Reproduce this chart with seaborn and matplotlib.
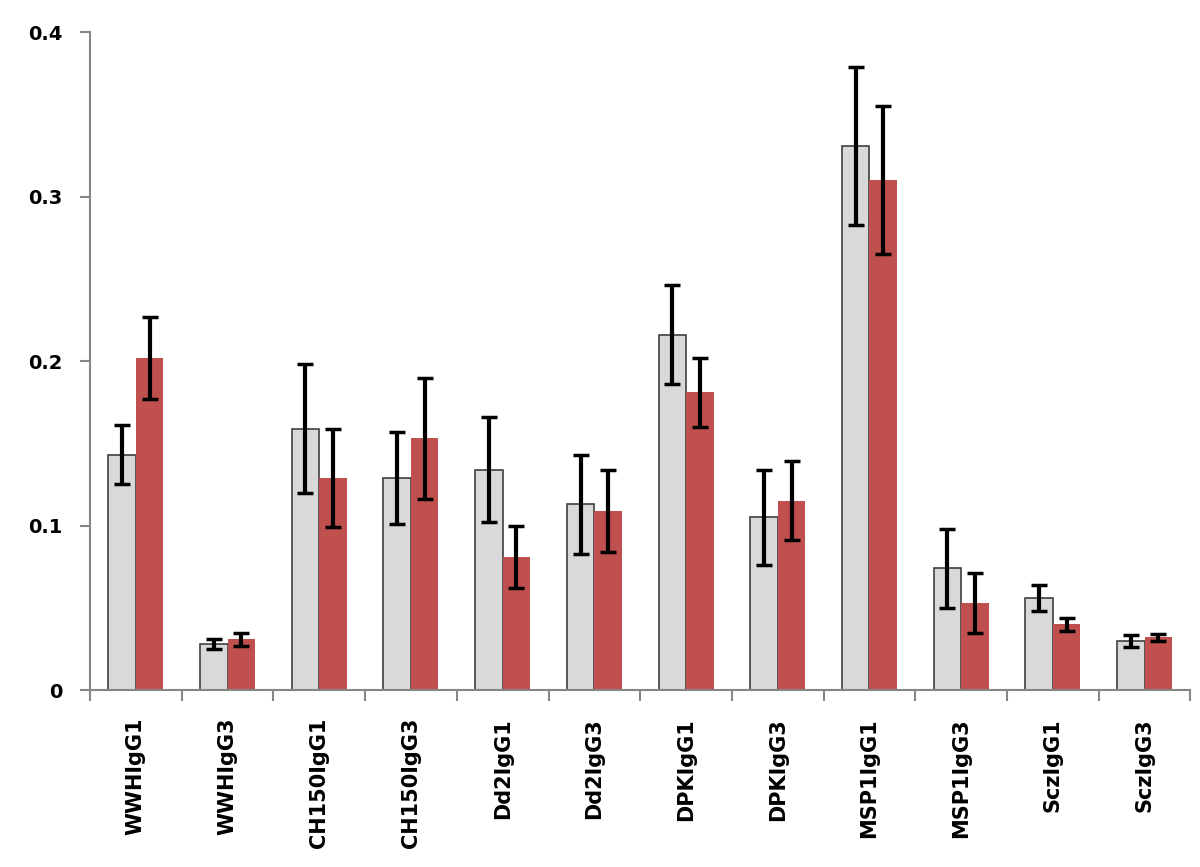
import numpy as np
import pandas as pd
import matplotlib
matplotlib.use("Agg")
import matplotlib.pyplot as plt
import seaborn as sns

categories = ["WWHIgG1", "WWHIgG3", "CH150IgG1", "CH150IgG3", "Dd2IgG1", "Dd2IgG3",
              "DPKIgG1", "DPKIgG3", "MSP1IgG1", "MSP1IgG3", "SczIgG1", "SczIgG3"]
series_names = ["A", "B"]
gray_vals = [0.143, 0.028, 0.159, 0.129, 0.134, 0.113, 0.216, 0.105, 0.331, 0.074, 0.056, 0.030]
gray_err = [0.018, 0.003, 0.039, 0.028, 0.032, 0.030, 0.030, 0.029, 0.048, 0.024, 0.008, 0.0035]
red_vals = [0.202, 0.031, 0.129, 0.153, 0.081, 0.109, 0.181, 0.115, 0.310, 0.053, 0.040, 0.032]
red_err = [0.025, 0.004, 0.030, 0.037, 0.019, 0.025, 0.021, 0.024, 0.045, 0.018, 0.004, 0.002]

df = pd.DataFrame({
    "cat": categories * 2,
    "series": [series_names[0]] * len(categories) + [series_names[1]] * len(categories),
    "val": gray_vals + red_vals,
    "err": gray_err + red_err,
})

sns.set_style("white")
plt.rcParams["font.family"] = ["DejaVu Sans"]

fig = plt.figure(figsize=(12, 8.67), dpi=100)
ax = fig.add_axes([0.075, 0.204, 0.917, 0.759])

sns.barplot(data=df, x="cat", y="val", hue="series", order=categories,
            hue_order=series_names, palette=["#D9D9D9", "#C0504D"],
            width=0.6, errorbar=None, legend=False, saturation=1, ax=ax)

# gray bars have a dark outline, red bars none
n = len(categories)
for i, p in enumerate(ax.patches[:2 * n]):
    if i < n:
        p.set_edgecolor("#3F3F3F")
        p.set_linewidth(1.2)
    else:
        p.set_linewidth(0)

# error bars from bar centres
xs = [p.get_x() + p.get_width() / 2 for p in ax.patches[:2 * n]]
ys = [p.get_height() for p in ax.patches[:2 * n]]
ax.errorbar(xs, ys, yerr=gray_err + red_err, fmt="none", ecolor="black",
            elinewidth=3, capsize=6, capthick=2.5, zorder=5)

ax.set_xlim(-0.5, n - 0.5)
ax.set_ylim(0, 0.4)
ax.set_yticks([0, 0.1, 0.2, 0.3, 0.4])
ax.set_yticklabels(["0", "0.1", "0.2", "0.3", "0.4"], fontsize=14, fontweight="bold", color="black")
ax.set_xticks(range(n))
ax.set_xticklabels(categories, rotation=90, fontsize=15, fontweight="bold", va="top", color="black")
ax.set_xticks(np.arange(-0.5, n, 1.0), minor=True)
ax.tick_params(axis="x", which="major", bottom=True, length=0, pad=20)
ax.tick_params(axis="x", which="minor", bottom=True, length=8, width=1.5,
               color="#868686", direction="out")
ax.tick_params(axis="y", which="major", left=True, length=7, width=1.5,
               color="#868686", direction="out", pad=13)
ax.set_xlabel("")
ax.set_ylabel("")

for s in ["top", "right"]:
    ax.spines[s].set_visible(False)
for s in ["left", "bottom"]:
    ax.spines[s].set_color("#868686")
    ax.spines[s].set_linewidth(1.5)

fig.savefig("out.png", dpi=100)
